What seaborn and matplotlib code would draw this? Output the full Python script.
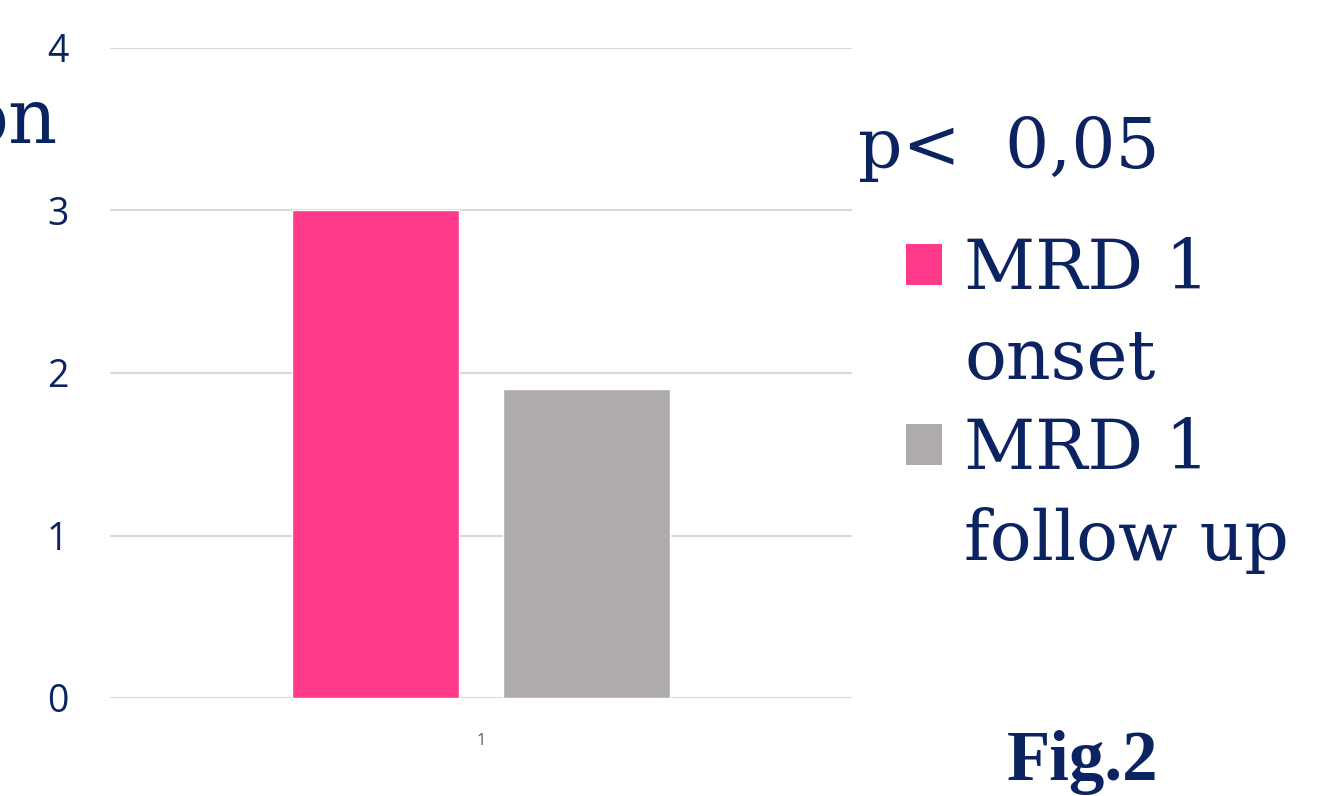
import matplotlib
matplotlib.use("Agg")
import matplotlib.pyplot as plt
from matplotlib.patches import Patch
import seaborn as sns
import pandas as pd

# ---- data ----
categories = ["1"]
series = ["MRD 1 onset", "MRD 1 follow up"]
values = [3.0, 1.9]
legend_lines = [["MRD 1", "onset"], ["MRD 1", "follow up"]]
y_ticks = [0, 1, 2, 3, 4]

NAVY = "#0b2461"
PINK = "#ff3a8b"
GRAY = "#afabab"

sns.set_theme(style="white")

df = pd.DataFrame({
    "category": [categories[0]] * len(series),
    "series": series,
    "value": values,
})

fig = plt.figure(figsize=(13.37, 7.96), dpi=100)
ax = fig.add_axes([110 / 1337, 1 - 698 / 796, 742 / 1337, 650 / 796])

sns.barplot(data=df, x="category", y="value", hue="series",
            palette=[PINK, GRAY], saturation=1, width=0.569, gap=0.21,
            legend=False, ax=ax, zorder=3)

ax.set_ylim(0, 4)
ax.set_xlim(-0.5, 0.5)
ax.set_yticks(y_ticks)
ax.set_yticklabels([str(t) for t in y_ticks], fontsize=27, color=NAVY,
                   family="Open Sans")
ax.tick_params(axis="y", length=0, pad=30)
ax.tick_params(axis="x", length=0, pad=25)
for lab in ax.get_xticklabels():
    lab.set_fontsize(12)
    lab.set_color("#595959")
    lab.set_family("Open Sans")
ax.set_xlabel("")
ax.set_ylabel("")
ax.grid(axis="y", color="#d9d9d9", linewidth=1.5, zorder=0)
ax.set_axisbelow(True)
for s in ax.spines.values():
    s.set_visible(False)

# clipped title fragment at left
fig.text(58 / 1337, 1 - 143 / 796, "on", ha="right", va="baseline",
         fontsize=55, color=NAVY, family="DejaVu Serif")

# p-value annotation
fig.text(858 / 1337, 1 - 168 / 796, "p<  0,05", ha="left", va="baseline",
         fontsize=50, color=NAVY, family="DejaVu Serif")

# legend
handles = [Patch(facecolor=PINK, edgecolor="none"),
           Patch(facecolor="none", edgecolor="none"),
           Patch(facecolor=GRAY, edgecolor="none"),
           Patch(facecolor="none", edgecolor="none")]
labels = [legend_lines[0][0], legend_lines[0][1],
          legend_lines[1][0], legend_lines[1][1]]
leg = fig.legend(handles, labels, loc="upper left",
                 bbox_to_anchor=(906 / 1337, 1 - 237 / 796),
                 frameon=False, prop={"family": "DejaVu Serif", "size": 50},
                 handlelength=0.52, handleheight=0.52, handletextpad=0.32,
                 labelspacing=0.34, borderpad=0, borderaxespad=0)
for t in leg.get_texts():
    t.set_color(NAVY)

fig.text(1007 / 1337, 1 - 780 / 796, "Fig.2", ha="left", va="baseline",
         fontsize=51, fontweight="bold", color=NAVY, family="Liberation Serif")

fig.savefig("out.png", dpi=100)
